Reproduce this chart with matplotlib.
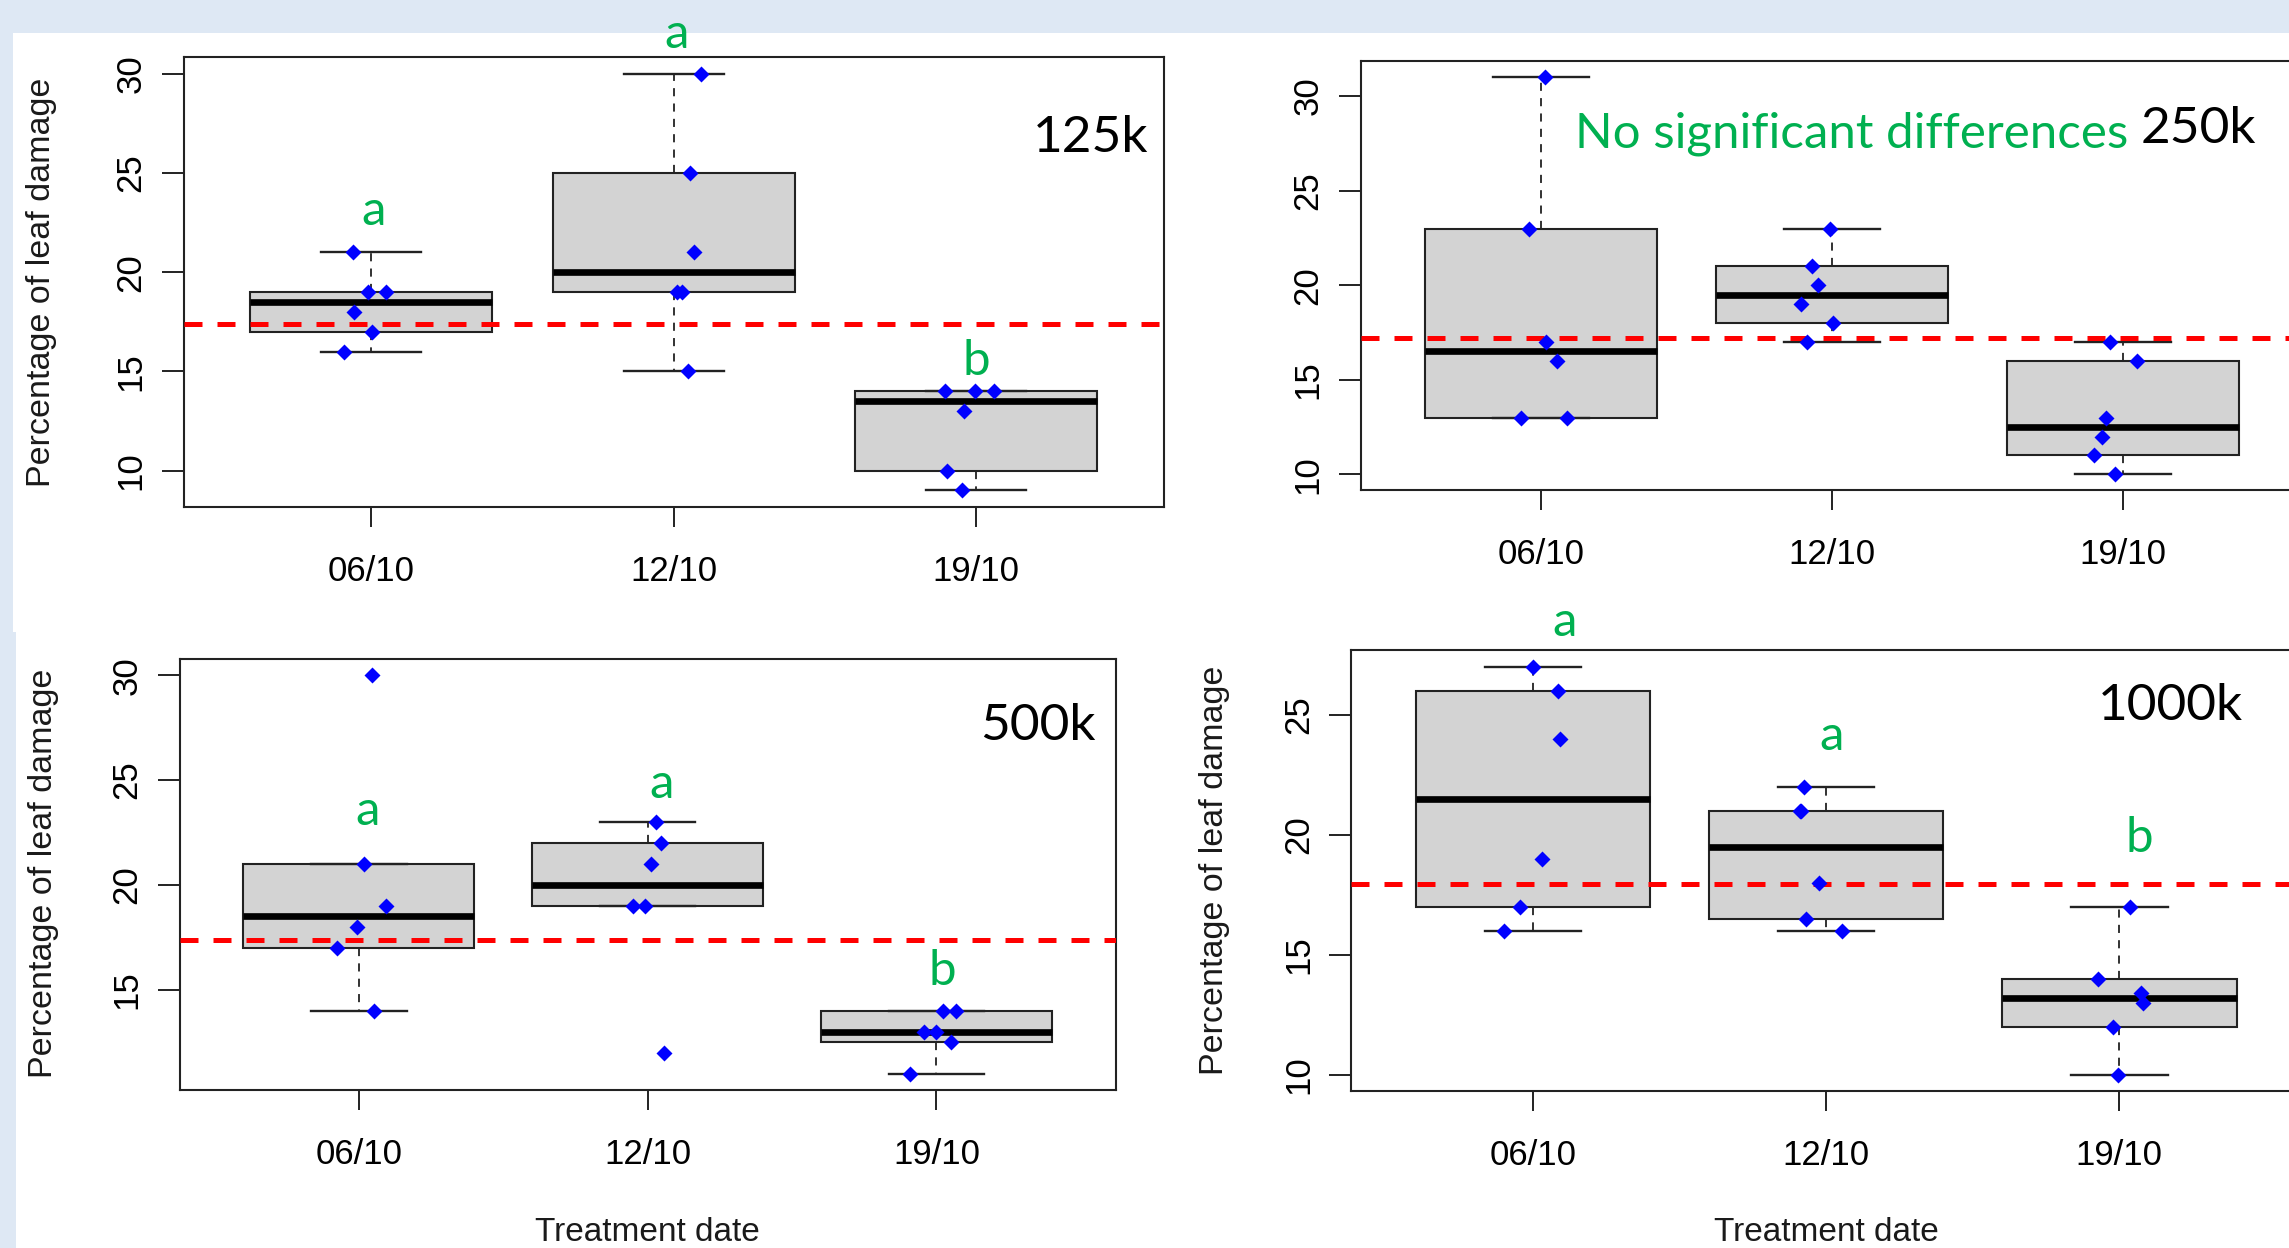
import math
import numpy as np
import matplotlib
matplotlib.use('Agg')
import matplotlib.pyplot as plt
from matplotlib.patches import Rectangle

plt.rcParams['font.family'] = ['Liberation Sans', 'DejaVu Sans']

# data (6 plants per date), jitter = x offset of each dot
dates = ['06/10', '12/10', '19/10']

d125 = [[21, 19, 19, 18, 17, 16], [30, 25, 21, 19, 19, 15], [14, 14, 14, 13, 10, 9]]
j125 = [[-0.061, -0.010, 0.048, -0.056, 0.003, -0.089],
        [0.089, 0.053, 0.066, 0.010, 0.028, 0.046],
        [-0.104, -0.005, 0.058, -0.040, -0.096, -0.046]]

d250 = [[31, 23, 17, 16, 13, 13], [23, 21, 20, 19, 18, 17], [17, 16, 13, 12, 11, 10]]
j250 = [[0.015, -0.040, 0.018, 0.055, -0.070, 0.090],
        [-0.005, -0.070, -0.048, -0.105, 0.003, -0.085],
        [-0.043, 0.050, -0.058, -0.073, -0.100, -0.028]]

d500 = [[30, 21, 19, 18, 17, 14], [23, 22, 21, 19, 19, 12], [14, 14, 13, 13, 12.5, 11]]
j500 = [[0.045, 0.019, 0.093, -0.005, -0.077, 0.053],
        [0.030, 0.046, 0.013, -0.050, -0.008, 0.058],
        [0.024, 0.066, -0.042, 0.000, 0.050, -0.093]]

d1000 = [[27, 26, 24, 19, 17, 16], [22, 21, 21, 18, 16.5, 16], [17, 14, 13.4, 13.0, 12, 10]]
j1000 = [[0.000, 0.087, 0.092, 0.032, -0.045, -0.100],
         [-0.077, -0.089, -0.085, -0.025, -0.070, 0.055],
         [0.037, -0.072, 0.074, 0.082, -0.020, -0.005]]

letters125 = ['a', 'a', 'b']
letters500 = ['a', 'a', 'b']
letters1000 = ['a', 'a', 'b']

GREEN = '#00b050'
BG = '#dee8f4'
W, H = 2289, 1248

fig = plt.figure(figsize=(W / 100, H / 100), dpi=100, facecolor='white')


def fx(x):
    return x / W


def fy(y):
    return 1 - y / H


# slide background around the pasted plots (kept under everything else)
fig.add_artist(Rectangle((0, fy(33)), 1, 33 / H, transform=fig.transFigure, color=BG, lw=0, zorder=-5))
fig.add_artist(Rectangle((0, fy(632)), fx(13), (632 - 33) / H, transform=fig.transFigure, color=BG, lw=0, zorder=-5))
fig.add_artist(Rectangle((0, 0), fx(16), fy(632), transform=fig.transFigure, color=BG, lw=0, zorder=-5))


def fivenum(v):
    x = sorted(v)
    n = len(x)
    n4 = math.floor((n + 3) / 2) / 2
    d = [1, n4, (n + 1) / 2, n + 1 - n4, n]
    return [0.5 * (x[math.floor(k - 1)] + x[math.ceil(k - 1)]) for k in d]


def r_stats(v):
    f = fivenum(v)
    iqr = f[3] - f[1]
    lo = min(a for a in v if a >= f[1] - 1.5 * iqr)
    hi = max(a for a in v if a <= f[3] + 1.5 * iqr)
    return dict(med=f[2], q1=f[1], q3=f[3], whislo=lo, whishi=hi, fliers=[])


def panel(l, t, r, b, groups, jitter):
    ax = fig.add_axes([fx(l), fy(b), (r - l) / W, (b - t) / H])
    pos = [1, 2, 3]
    ax.bxp([r_stats(g) for g in groups], positions=pos, widths=0.8, capwidths=0.33,
           showfliers=False, patch_artist=True,
           boxprops=dict(facecolor='#d3d3d3', edgecolor='#222222', lw=1.5),
           medianprops=dict(color='black', lw=4.8, solid_capstyle='butt'),
           whiskerprops=dict(color='#222222', lw=1.3, linestyle=(0, (4.5, 4))),
           capprops=dict(color='#222222', lw=1.7))
    allv = np.concatenate([np.array(g, float) for g in groups])
    ax.axhline(allv.mean(), color='red', lw=3.6, linestyle=(0, (3.6, 3.0)), zorder=3)
    for p, g, j in zip(pos, groups, jitter):
        ax.plot(p + np.array(j), g, 'D', color='blue', ms=8, mec='none', zorder=4)
    lo, hi = allv.min(), allv.max()
    pad = 0.04 * (hi - lo)
    ax.set_ylim(lo - pad, hi + pad)
    ax.set_xlim(0.38, 3.62)
    ax.set_xticks(pos, dates)
    yt = [v for v in range(10, 31, 5) if lo - pad <= v <= hi + pad]
    ax.set_yticks(yt)
    ax.set_yticklabels([str(v) for v in yt], rotation=90, va='center')
    ax.tick_params(axis='x', length=14.5, width=1.4, pad=20, labelsize=25, color='#222222')
    ax.tick_params(axis='y', length=16, width=1.4, pad=10, labelsize=25, color='#222222')
    for s in ax.spines.values():
        s.set_linewidth(1.5)
        s.set_color('#222222')
    return ax


def put_letters(ax, letters, xs, ys):
    for s, x, y in zip(letters, xs, ys):
        ax.text(x, y, s, color=GREEN, ha='center', va='baseline', fontsize=35.5,
                family='Lato', clip_on=False)


ax1 = panel(183.6, 57.3, 1163.7, 507.1, d125, j125)
put_letters(ax1, letters125, [1.008, 2.01, 3.0], [22.4, 31.3, 14.8])

ax2 = panel(1360.6, 61.3, 2303.3, 490.3, d250, j250)

ax3 = panel(179.8, 659.2, 1115.5, 1089.8, d500, j500)
put_letters(ax3, letters500, [1.03, 2.05, 3.02], [22.85, 24.13, 15.23])

ax4 = panel(1351.2, 650.4, 2301.0, 1090.9, d1000, j1000)
put_letters(ax4, letters1000, [1.107, 2.02, 3.07], [28.28, 23.53, 19.26])

# axis titles
for x, y in [(42, 282), (44, 873), (1214, 870)]:
    fig.text(fx(x), fy(y), 'Percentage of leaf damage', rotation=90, ha='center',
             va='center', fontsize=24.5, color='#1a1a1a')
for x, y in [(647, 1241), (1826, 1241)]:
    fig.text(fx(x), fy(y), 'Treatment date', ha='center', va='baseline', fontsize=24,
             color='#1a1a1a')

# dose labels and note
big = dict(family='Lato', fontsize=37, ha='right', va='baseline')
fig.text(fx(1148), fy(152), '125k', **big)
fig.text(fx(2256), fy(143), '250k', **big)
fig.text(fx(1096), fy(740), '500k', **big)
fig.text(fx(2243), fy(720), '1000k', **big)
fig.text(fx(2128), fy(147), 'No significant differences', color=GREEN, family='Lato',
         fontsize=35.5, ha='right', va='baseline')

fig.savefig('out.png', dpi=100, facecolor=fig.get_facecolor())
